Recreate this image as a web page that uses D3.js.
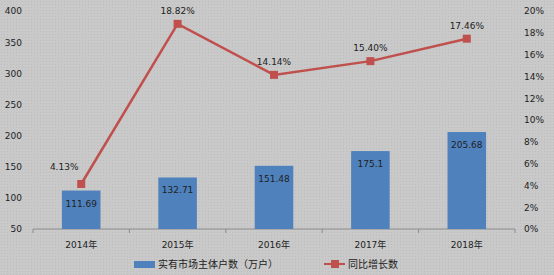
<!DOCTYPE html>
<html lang="zh">
<head>
<meta charset="UTF-8">
<title>实有市场主体户数</title>
<script src="https://cdnjs.cloudflare.com/ajax/libs/d3/7.8.5/d3.min.js"></script>
<style>
    body { margin: 0; background: #c8c8c8; }
    svg text { font-family: "DejaVu Sans", "Noto Sans CJK SC", sans-serif; fill: #222; }
</style>
</head>
<body>
<svg id="chart"></svg>
<script>
const years = ["2014年", "2015年", "2016年", "2017年", "2018年"];
const households = [111.69, 132.71, 151.48, 175.1, 205.68];
const growth = [4.13, 18.82, 14.14, 15.40, 17.46];
const growthLabels = ["4.13%", "18.82%", "14.14%", "15.40%", "17.46%"];
const leftTicks = [50, 100, 150, 200, 250, 300, 350, 400];
const rightTicks = [0, 2, 4, 6, 8, 10, 12, 14, 16, 18, 20];
const barName = "实有市场主体户数（万户）";
const lineName = "同比增长数";

const W = 554, H = 275;
const margin = {left: 33, right: 39, top: 11, bottom: 46};
const width = W - margin.left - margin.right,
      height = H - margin.top - margin.bottom;

const svg = d3.select("#chart").attr("width", W).attr("height", H);

// textured grey background
const defs = svg.append("defs");
const pat = defs.append("pattern")
    .attr("id", "dots")
    .attr("width", 3).attr("height", 3)
    .attr("patternUnits", "userSpaceOnUse");
pat.append("rect").attr("width", 3).attr("height", 3).attr("fill", "#c9c9c9");
pat.append("rect").attr("x", 1).attr("y", 1).attr("width", 1).attr("height", 1).attr("fill", "#bdbdbd");
svg.append("rect").attr("width", W).attr("height", H).attr("fill", "url(#dots)");

const g = svg.append("g")
    .attr("transform", "translate(" + margin.left + "," + margin.top + ")");

const x = d3.scaleBand().domain(years).range([0, width]).paddingInner(0.6).paddingOuter(0.3);
const xTicks = d3.scaleBand().domain(years).range([0, width]);
const yL = d3.scaleLinear().domain([50, 400]).range([height, 0]);
const yR = d3.scaleLinear().domain([0, 20]).range([height, 0]);

// left axis
const leftAxis = g.append("g")
    .call(d3.axisLeft(yL).tickValues(leftTicks).tickSize(0).tickPadding(11));
leftAxis.select(".domain").remove();
leftAxis.selectAll("text").style("font-size", "9px");

// right axis
const rightAxis = g.append("g")
    .attr("transform", "translate(" + width + ",0)")
    .call(d3.axisRight(yR).tickValues(rightTicks).tickSize(0).tickPadding(9)
        .tickFormat(d => d + "%"));
rightAxis.select(".domain").remove();
rightAxis.selectAll("text").style("font-size", "9px");

// bottom axis
const bottom = g.append("g").attr("transform", "translate(0," + height + ")");
bottom.append("line").attr("x1", 0).attr("x2", width).attr("stroke", "#8c8c8c");
bottom.selectAll("line.tick")
    .data(years.concat(["end"]))
    .enter().append("line")
    .attr("class", "tick")
    .attr("x1", (d, i) => i * xTicks.bandwidth())
    .attr("x2", (d, i) => i * xTicks.bandwidth())
    .attr("y1", 0).attr("y2", 4)
    .attr("stroke", "#8c8c8c");
bottom.selectAll("text")
    .data(years)
    .enter().append("text")
    .attr("x", d => xTicks(d) + xTicks.bandwidth() / 2)
    .attr("y", 19)
    .attr("text-anchor", "middle")
    .style("font-size", "9px")
    .text(d => d);

// bars
g.selectAll("rect.bar")
    .data(households)
    .enter().append("rect")
    .attr("class", "bar")
    .attr("x", (d, i) => x(years[i]))
    .attr("y", d => yL(d))
    .attr("width", x.bandwidth())
    .attr("height", d => height - yL(d))
    .attr("fill", "#4f81bd");

g.selectAll("text.barlabel")
    .data(households)
    .enter().append("text")
    .attr("class", "barlabel")
    .attr("x", (d, i) => x(years[i]) + x.bandwidth() / 2)
    .attr("y", d => yL(d) + 16)
    .attr("text-anchor", "middle")
    .style("font-size", "9px")
    .text(d => d);

// growth line
const cx = i => xTicks(years[i]) + xTicks.bandwidth() / 2;
const line = d3.line().x((d, i) => cx(i)).y(d => yR(d));
g.append("path")
    .datum(growth)
    .attr("d", line)
    .attr("fill", "none")
    .attr("stroke", "#c0504d")
    .attr("stroke-width", 2.5);

g.selectAll("rect.marker")
    .data(growth)
    .enter().append("rect")
    .attr("class", "marker")
    .attr("x", (d, i) => cx(i) - 4)
    .attr("y", d => yR(d) - 4)
    .attr("width", 8).attr("height", 8)
    .attr("fill", "#c0504d");

// first label sits up and to the left so it clears the line
g.selectAll("text.linelabel")
    .data(growth)
    .enter().append("text")
    .attr("class", "linelabel")
    .attr("x", (d, i) => cx(i) - (i === 0 ? 17 : 0))
    .attr("y", d => yR(d) - (d < 5 ? 14 : 10))
    .attr("text-anchor", "middle")
    .style("font-size", "9px")
    .text((d, i) => growthLabels[i]);

// legend
const legend = svg.append("g").attr("transform", "translate(0,264)");
legend.append("rect")
    .attr("x", 134).attr("y", -3).attr("width", 21).attr("height", 7)
    .attr("fill", "#4f81bd");
legend.append("text")
    .attr("x", 158).attr("y", 4)
    .style("font-size", "10px")
    .text(barName);
legend.append("line")
    .attr("x1", 324).attr("x2", 345).attr("y1", 0).attr("y2", 0)
    .attr("stroke", "#c0504d").attr("stroke-width", 2);
legend.append("rect")
    .attr("x", 331).attr("y", -4).attr("width", 8).attr("height", 8)
    .attr("fill", "#c0504d");
legend.append("text")
    .attr("x", 348).attr("y", 4)
    .style("font-size", "10px")
    .text(lineName);
</script>
</body>
</html>
